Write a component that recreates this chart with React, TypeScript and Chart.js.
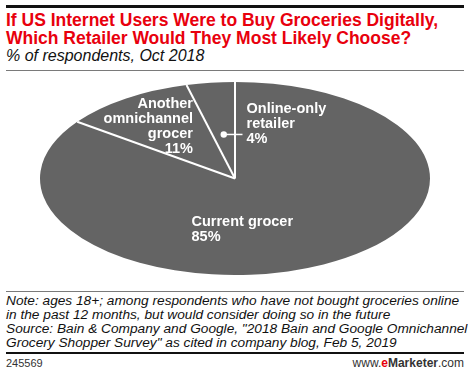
import React, { useEffect, useRef } from "react";
import { Chart, registerables } from "chart.js";

Chart.register(...registerables);

const categories = ["Current grocer", "Another omnichannel grocer", "Online-only retailer"];
const values = [85, 11, 4];
const labelLines = [["Current grocer"], ["Another", "omnichannel", "grocer"], ["Online-only", "retailer"]];
const titleLines = [
  "If US Internet Users Were to Buy Groceries Digitally,",
  "Which Retailer Would They Most Likely Choose?",
];
const subtitle = "% of respondents, Oct 2018";
const noteLines = [
  "Note: ages 18+; among respondents who have not bought groceries online",
  "in the past 12 months, but would consider doing so in the future",
  "Source: Bain & Company and Google, \"2018 Bain and Google Omnichannel",
  "Grocery Shopper Survey\" as cited in company blog, Feb 5, 2019",
];
const chartId = "245569";

const FONT = '"Liberation Sans", Arial, sans-serif';
const RX = 195;
const RY = 96.5;
const SLICE = "#646464";

// label anchors relative to pie centre: [dx, dy of first baseline, align]
const labelLayout: [number, number, CanvasTextAlign][] = [
  [-43.5, 47.5, "left"],
  [-42, -70.5, "right"],
  [11.5, -66, "left"],
];

const ellipsePlugin = {
  id: "ellipsePie",
  beforeDatasetsDraw(chart: any) {
    const el = chart.getDatasetMeta(0).data[0];
    const ctx = chart.ctx;
    ctx.save();
    ctx.translate(el.x, el.y);
    ctx.scale(1, RY / RX);
    ctx.translate(-el.x, -el.y);
  },
  afterDatasetsDraw(chart: any) {
    const ctx = chart.ctx;
    ctx.restore();
    const meta = chart.getDatasetMeta(0);
    const k = RY / RX;
    ctx.save();
    ctx.strokeStyle = "#ffffff";
    ctx.lineWidth = 2;
    meta.data.forEach((el: any) => {
      const a = el.startAngle;
      const r = el.outerRadius;
      ctx.beginPath();
      ctx.moveTo(el.x, el.y);
      ctx.lineTo(el.x + r * Math.cos(a), el.y + r * k * Math.sin(a));
      ctx.stroke();
    });
    // labels
    ctx.fillStyle = "#ffffff";
    ctx.font = `bold 14.5px ${FONT}`;
    ctx.textBaseline = "alphabetic";
    meta.data.forEach((el: any, i: number) => {
      const [dx, dy, align] = labelLayout[i];
      const lines = [...labelLines[i], `${values[i]}%`];
      ctx.textAlign = align;
      lines.forEach((t, j) => {
        ctx.fillText(t, el.x + dx, el.y + dy + j * 15);
      });
    });
    // leader for small slice
    const small = meta.data[2];
    const mid = (small.startAngle + small.endAngle) / 2;
    const f = 0.46;
    const px = small.x + small.outerRadius * f * Math.cos(mid);
    const py = small.y + small.outerRadius * k * f * Math.sin(mid);
    ctx.beginPath();
    ctx.arc(px, py, 3.2, 0, Math.PI * 2);
    ctx.fill();
    ctx.beginPath();
    ctx.lineWidth = 1.5;
    ctx.moveTo(px, py);
    ctx.lineTo(small.x + labelLayout[2][0] - 4, py);
    ctx.stroke();
    ctx.restore();
  },
};

export default function App() {
  const ref = useRef<HTMLCanvasElement>(null);
  useEffect(() => {
    if (!ref.current) return;
    const chart = new Chart(ref.current, {
      type: "pie",
      data: {
        labels: categories,
        datasets: [
          {
            data: values,
            backgroundColor: SLICE,
            borderWidth: 0,
            clip: false as any,
          },
        ],
      },
      options: {
        responsive: false,
        animation: false,
        events: [],
        radius: RX,
        layout: { padding: 0 },
        plugins: {
          legend: { display: false },
          tooltip: { enabled: false },
        },
      } as any,
      plugins: [ellipsePlugin],
    });
    return () => chart.destroy();
  }, []);

  return (
    <div
      style={{
        position: "absolute",
        left: 0,
        top: 0,
        width: 470,
        height: 375,
        background: "#fff",
        fontFamily: FONT,
        overflow: "hidden",
      }}
    >
      <div style={{ position: "absolute", left: 6, top: 5, width: 458, height: 3, background: "#111" }} />
      <div
        style={{
          position: "absolute",
          left: 6,
          top: 11,
          fontSize: 17.5,
          lineHeight: "18px",
          fontWeight: "bold",
          color: "#e8000d",
          whiteSpace: "nowrap",
        }}
      >
        {titleLines.map((t, i) => (
          <div key={i}>{t}</div>
        ))}
      </div>
      <div
        style={{
          position: "absolute",
          left: 6,
          top: 47,
          fontSize: 16,
          lineHeight: "18px",
          fontStyle: "italic",
          color: "#111",
          whiteSpace: "nowrap",
        }}
      >
        {subtitle}
      </div>
      <div style={{ position: "absolute", left: 6, top: 70, width: 458, height: 1, background: "#7a7a7a" }} />
      <canvas
        ref={ref}
        width={470}
        height={215}
        style={{ position: "absolute", left: 0, top: 71, width: 470, height: 215 }}
      />
      <div style={{ position: "absolute", left: 6, top: 291, width: 458, height: 1, background: "#7a7a7a" }} />
      <div
        style={{
          position: "absolute",
          left: 6,
          top: 293.5,
          fontSize: 13.7,
          lineHeight: "14px",
          fontStyle: "italic",
          color: "#111",
          whiteSpace: "nowrap",
        }}
      >
        {noteLines.map((t, i) => (
          <div key={i}>{t}</div>
        ))}
      </div>
      <div style={{ position: "absolute", left: 6, top: 352, width: 458, height: 2, background: "#111" }} />
      <div
        style={{
          position: "absolute",
          left: 6,
          top: 357,
          fontSize: 11,
          lineHeight: "12px",
          color: "#333",
        }}
      >
        {chartId}
      </div>
      <div
        style={{
          position: "absolute",
          right: 6,
          top: 357,
          fontSize: 12,
          lineHeight: "12px",
          color: "#333",
          whiteSpace: "nowrap",
        }}
      >
        www.<span style={{ color: "#e8000d", fontWeight: "bold" }}>e</span>
        <span style={{ fontWeight: "bold" }}>Marketer</span>.com
      </div>
    </div>
  );
}
